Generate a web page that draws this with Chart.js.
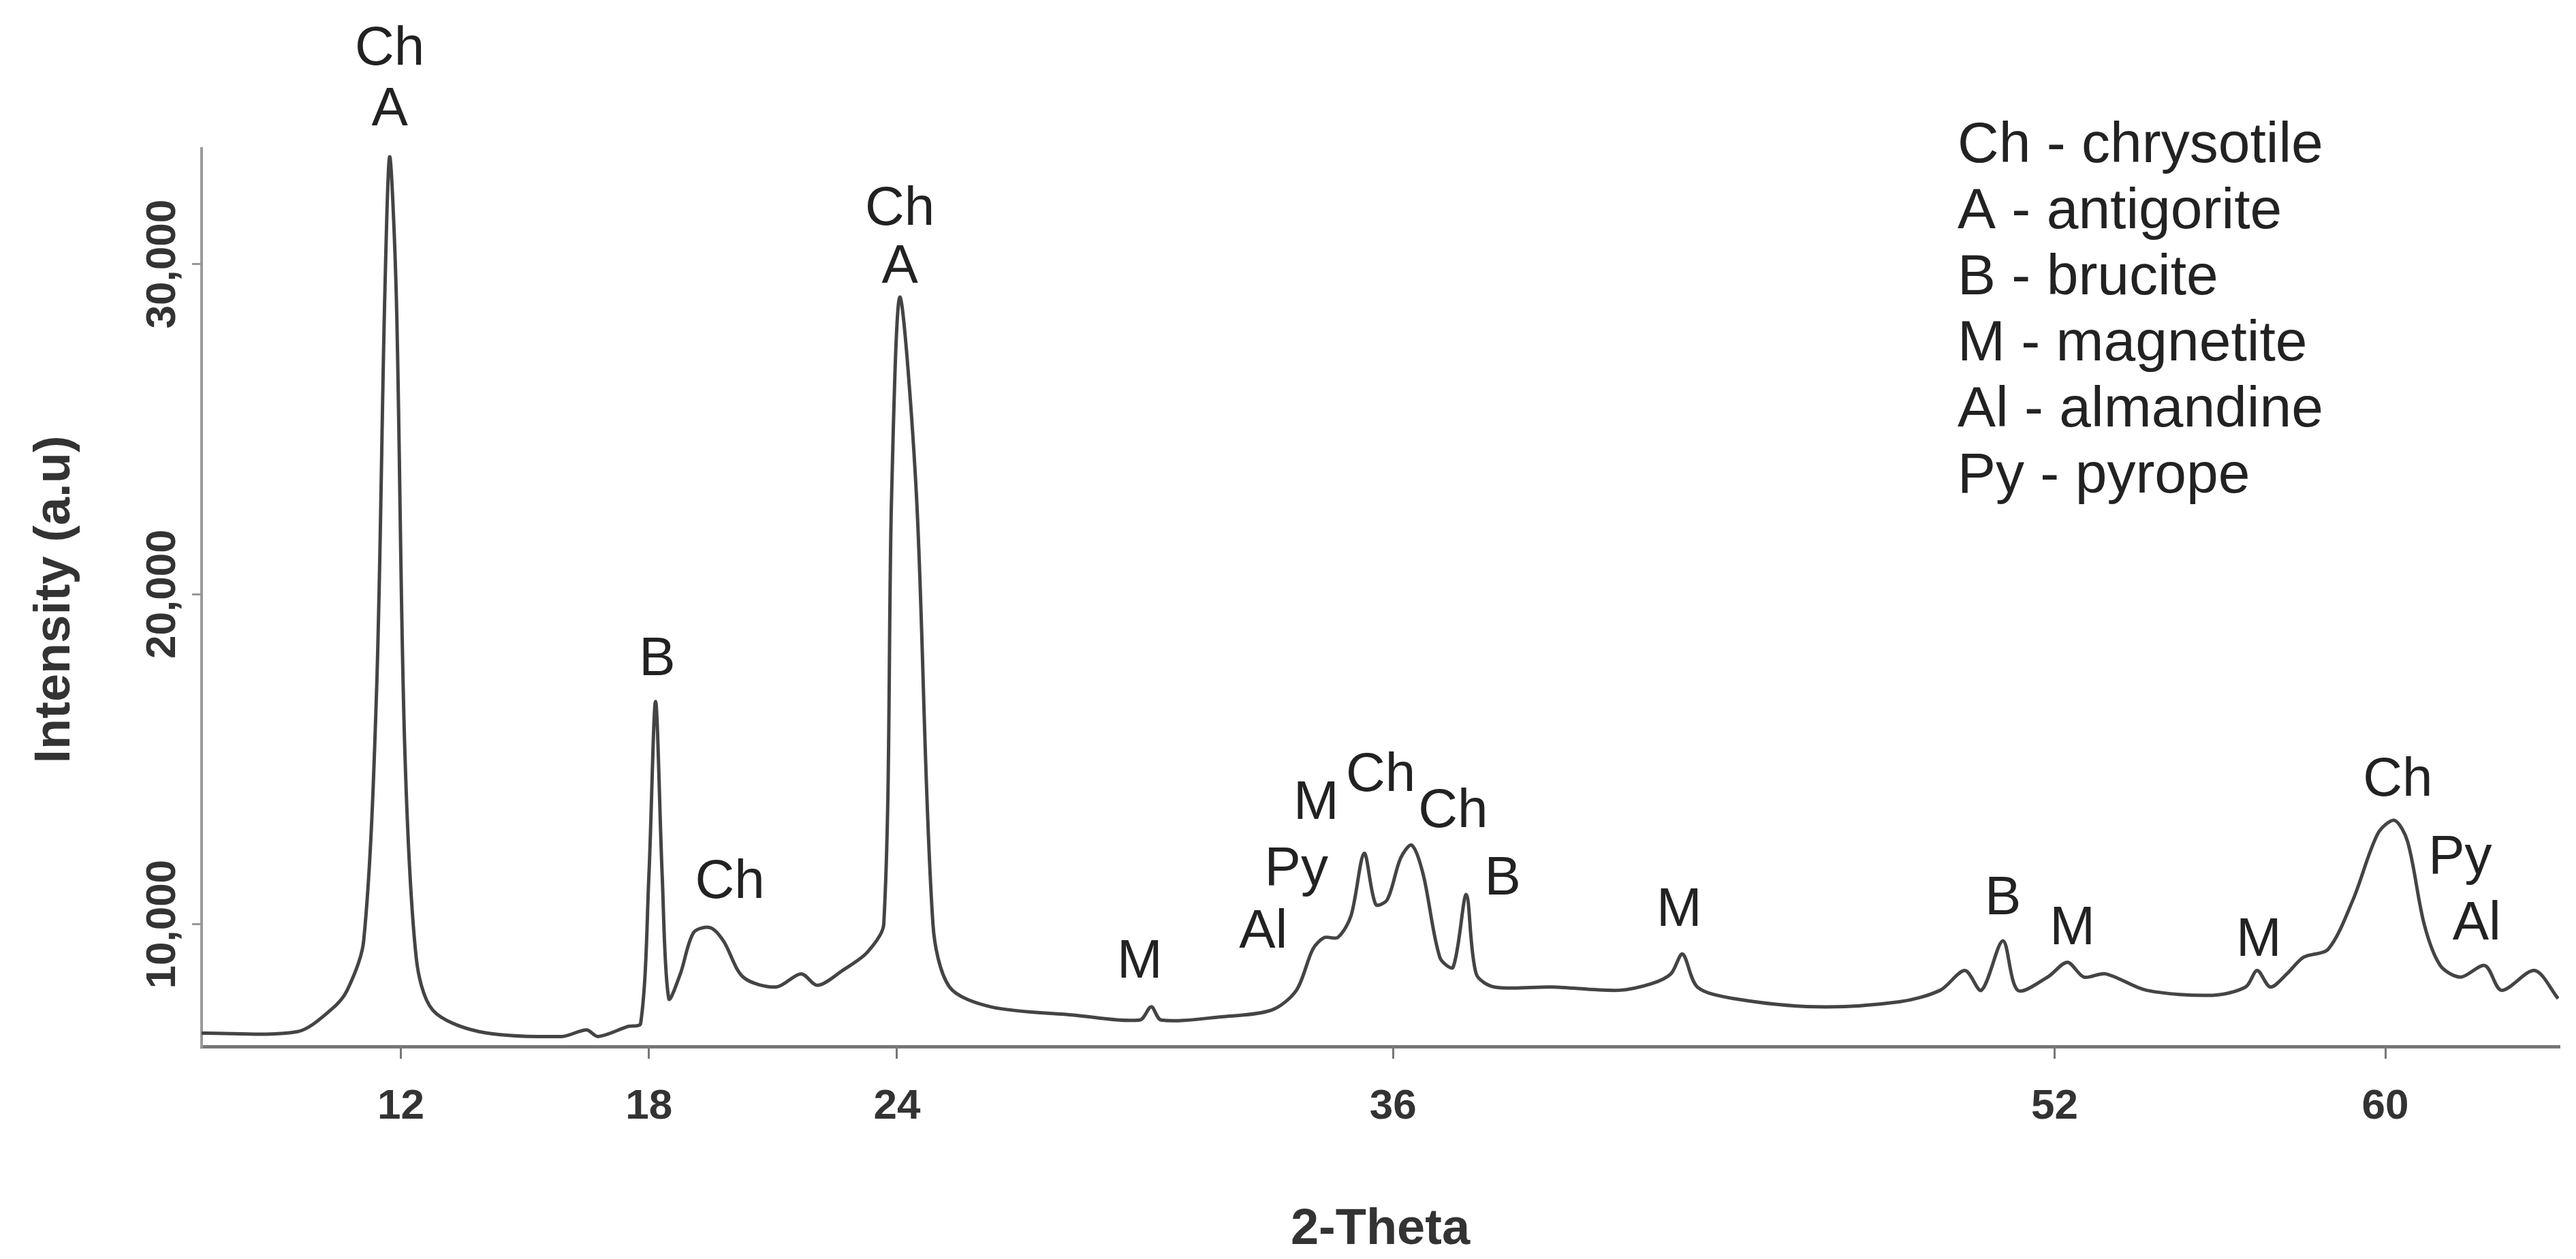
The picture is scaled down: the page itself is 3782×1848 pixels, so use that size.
<!DOCTYPE html>
<html>
<head>
<meta charset="utf-8">
<script src="https://cdn.jsdelivr.net/npm/chart.js@4"></script>
<style>
  html, body { margin: 0; padding: 0; background: #fff; }
  canvas { display: block; }
</style>
</head>
<body>
<canvas id="xrd" width="3782" height="1848"></canvas>
<script>
// ===============================
// Data
// ===============================
const twoTheta = [
  7.18, 9.5, 10.3, 10.7, 11.1, 11.41, 11.61, 11.73, 11.89, 12.09, 12.37, 12.77, 13.89, 15.89, 16.49, 16.77,
  17.48, 17.8, 18.0, 18.16, 18.32, 18.48, 18.76, 19.08, 19.48, 19.8, 20.28, 21.08, 21.68, 22.08, 22.68, 23.28,
  23.68, 23.87, 24.07, 24.47, 24.87, 25.27, 26.27, 28.27, 29.87, 30.15, 30.39, 31.86, 33.06, 33.66, 34.06, 34.34,
  34.66, 34.98, 35.3, 35.58, 35.86, 36.18, 36.45, 36.73, 37.13, 37.45, 37.77, 38.01, 38.45, 39.85, 41.45, 42.25,
  42.72, 43.0, 43.36, 44.24, 46.24, 48.24, 49.23, 49.83, 50.23, 50.75, 51.11, 51.83, 52.31, 52.71, 53.23, 54.23,
  55.82, 56.62, 56.9, 57.22, 57.62, 58.02, 58.62, 59.22, 59.82, 60.22, 60.54, 60.94, 61.33, 61.82, 62.41, 62.81,
  63.61, 64.18
];
const intensity = [
  6700, 6750, 7400, 8000, 9500, 17000, 29000, 33250, 29000, 15500, 9000, 7400, 6750, 6600, 6800, 6600,
  6900, 7000, 11500, 16750, 11500, 7750, 8500, 9750, 9900, 9500, 8400, 8100, 8500, 8150, 8600, 9150,
  10000, 23000, 29000, 23000, 10000, 8100, 7500, 7250, 7100, 7500, 7100, 7200, 7400, 8000, 9250, 9600,
  9600, 10250, 12150, 10600, 10750, 12000, 12400, 11500, 9000, 8700, 10900, 8500, 8100, 8100, 8000, 8200,
  8500, 9100, 8100, 7750, 7500, 7650, 8000, 8600, 8000, 9500, 8000, 8400, 8850, 8400, 8500, 8000,
  7850, 8100, 8600, 8100, 8500, 9000, 9250, 10750, 12750, 13150, 12500, 10000, 8750, 8400, 8750, 8000,
  8600, 7750
];
const xTicks = [12, 18, 24, 36, 52, 60];
const yTicks = [10000, 20000, 30000];

// peak labels
const peakText = ["Ch", "A", "B", "Ch", "Ch", "A", "M", "Al", "Py", "M", "Ch", "Ch", "B", "M", "B", "M", "M", "Ch", "Py", "Al"];
const peakX = [11.73, 11.73, 18.2, 19.96, 24.07, 24.07, 29.87, 32.86, 33.66, 34.14, 35.7, 37.45, 38.65, 42.92, 50.75, 52.43, 56.94, 60.3, 61.81, 62.21];
const peakY = [36500, 34650, 18000, 11250, 31650, 29900, 8850, 9750, 11650, 13650, 14500, 13400, 11350, 10400, 10750, 9850, 9500, 14350, 12000, 10000];

const legendLines = ["Ch - chrysotile", "A - antigorite", "B - brucite", "M - magnetite", "Al - almandine", "Py - pyrope"];

// ===============================
// Annotation plugin
// ===============================
const annotations = {
  id: "annotations",
  afterDraw(chart) {
    const ctx = chart.ctx;
    const xs = chart.scales.x, ys = chart.scales.y;
    ctx.save();
    ctx.fillStyle = "#222";
    ctx.font = "80px 'Liberation Sans', Arial, sans-serif";
    ctx.textAlign = "center";
    ctx.textBaseline = "middle";
    peakText.forEach((t, i) => {
      ctx.fillText(t, xs.getPixelForValue(peakX[i]), ys.getPixelForValue(peakY[i]));
    });

    // legend text
    ctx.textAlign = "left";
    ctx.font = "84px 'Liberation Sans', Arial, sans-serif";
    legendLines.forEach((t, i) => ctx.fillText(t, 2874, 215 + i * 97));

    // y tick labels, rotated
    ctx.font = "bold 62px 'Liberation Sans', Arial, sans-serif";
    ctx.fillStyle = "#333";
    ctx.textAlign = "center";
    yTicks.forEach(v => {
      ctx.save();
      ctx.translate(240, ys.getPixelForValue(v));
      ctx.rotate(-Math.PI / 2);
      ctx.fillText(v.toLocaleString("en-US"), 0, 0);
      ctx.restore();
    });

    // axis titles
    ctx.font = "bold 74px 'Liberation Sans', Arial, sans-serif";
    ctx.fillText("2-Theta", (chart.chartArea.left + chart.chartArea.right) / 2, 1806);
    ctx.save();
    ctx.translate(82, 880);
    ctx.rotate(-Math.PI / 2);
    ctx.fillText("Intensity (a.u)", 0, 0);
    ctx.restore();
    ctx.restore();
  }
};

// ===============================
// Chart
// ===============================
new Chart(document.getElementById("xrd"), {
  type: "line",
  data: {
    datasets: [{
      data: twoTheta.map((x, i) => ({ x, y: intensity[i] })),
      borderColor: "#444",
      borderWidth: 5,
      pointRadius: 0,
      tension: 0.3,
      fill: false
    }]
  },
  options: {
    responsive: false,
    animation: false,
    devicePixelRatio: 1,
    layout: { padding: { top: 218, right: 25, left: 0, bottom: 0 } },
    plugins: { legend: { display: false }, tooltip: { enabled: false } },
    scales: {
      x: {
        type: "linear",
        min: 7.18,
        max: 64.2,
        afterBuildTicks: s => { s.ticks = xTicks.map(v => ({ value: v })); },
        afterFit: s => { s.height = 312; },
        border: { color: "#777", width: 5 },
        grid: { drawOnChartArea: false, tickLength: 18, color: "#777", lineWidth: 3 },
        ticks: {
          color: "#333",
          padding: 34,
          font: { size: 62, weight: "bold", family: "'Liberation Sans', Arial, sans-serif" }
        }
      },
      y: {
        min: 6300,
        max: 33500,
        afterBuildTicks: s => { s.ticks = yTicks.map(v => ({ value: v })); },
        afterFit: s => { s.width = 296; },
        border: { color: "#999", width: 4 },
        grid: { drawOnChartArea: false, tickLength: 14, color: "#999", lineWidth: 3 },
        ticks: { callback: () => "" }
      }
    }
  },
  plugins: [annotations]
});
</script>
</body>
</html>
